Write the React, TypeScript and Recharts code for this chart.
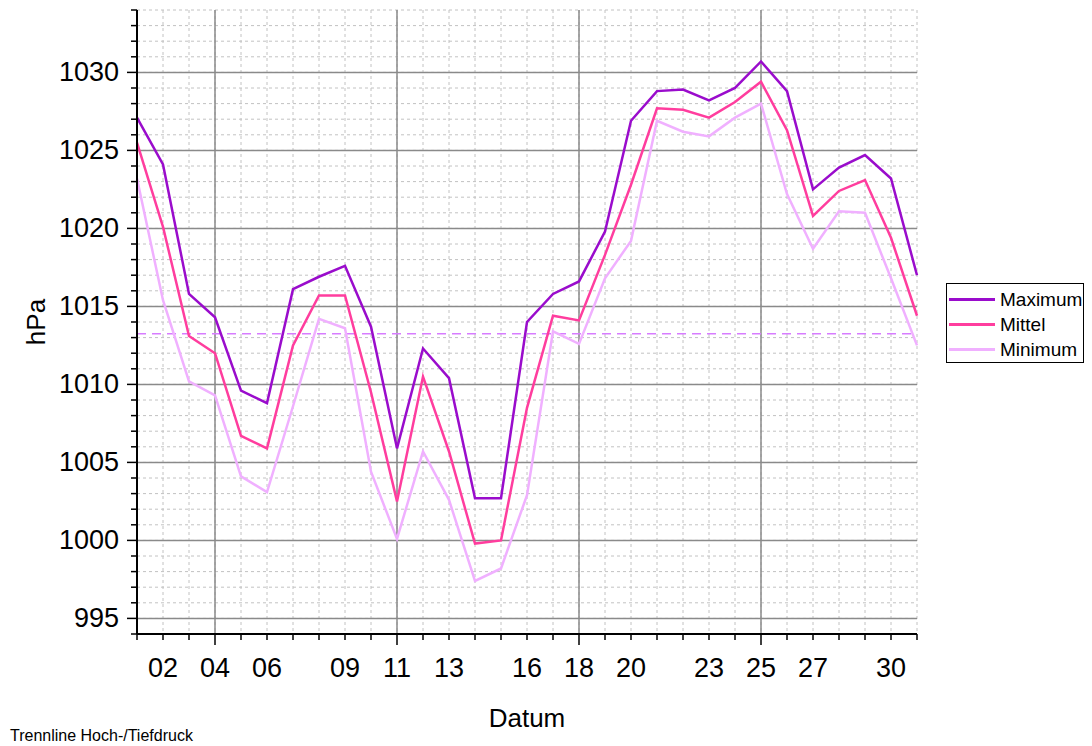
import React from 'react';
import { LineChart, Line, XAxis, YAxis, CartesianGrid, ReferenceLine } from 'recharts';

// Luftdruck pro Tag (hPa)
const days = [1, 2, 3, 4, 5, 6, 7, 8, 9, 10, 11, 12, 13, 14, 15, 16, 17, 18, 19, 20, 21, 22, 23, 24, 25, 26, 27, 28, 29, 30, 31];
const maximum = [1027.1, 1024.1, 1015.8, 1014.3, 1009.6, 1008.8, 1016.1, 1016.9, 1017.6, 1013.7, 1005.9, 1012.3, 1010.4, 1002.7, 1002.7, 1014.0, 1015.8, 1016.6, 1019.8, 1026.9, 1028.8, 1028.9, 1028.2, 1029.0, 1030.7, 1028.8, 1022.5, 1023.9, 1024.7, 1023.2, 1017.0];
const mittel = [1025.5, 1020.1, 1013.1, 1012.0, 1006.7, 1005.9, 1012.5, 1015.7, 1015.7, 1009.5, 1002.5, 1010.5, 1005.7, 999.8, 1000.0, 1008.5, 1014.4, 1014.1, 1018.3, 1022.8, 1027.7, 1027.6, 1027.1, 1028.1, 1029.4, 1026.3, 1020.8, 1022.4, 1023.1, 1019.4, 1014.4];
const minimum = [1023.2, 1015.4, 1010.2, 1009.3, 1004.1, 1003.1, 1008.6, 1014.2, 1013.6, 1004.4, 1000.1, 1005.7, 1002.6, 997.4, 998.2, 1002.9, 1013.4, 1012.6, 1016.8, 1019.2, 1026.9, 1026.2, 1025.9, 1027.1, 1028.0, 1022.2, 1018.7, 1021.1, 1021.0, 1016.8, 1012.5];

const dayLabels = [2, 4, 6, 9, 11, 13, 16, 18, 20, 23, 25, 27, 30];
const weekDays = [4, 11, 18, 25];
const pressureTicks = [994, 995, 996, 997, 998, 999, 1000, 1001, 1002, 1003, 1004, 1005, 1006, 1007, 1008, 1009, 1010, 1011, 1012, 1013, 1014, 1015, 1016, 1017, 1018, 1019, 1020, 1021, 1022, 1023, 1024, 1025, 1026, 1027, 1028, 1029, 1030, 1031, 1032, 1033, 1034];
const pressureMajor = [995, 1000, 1005, 1010, 1015, 1020, 1025, 1030];
const trennlinie = 1013.25;

const series = [
  { key: 'max', name: 'Maximum', color: '#9a0ccc' },
  { key: 'mittel', name: 'Mittel', color: '#ff3d9e' },
  { key: 'min', name: 'Minimum', color: '#f0b0ff' },
];

const data = days.map((d, i) => ({ day: d, max: maximum[i], mittel: mittel[i], min: minimum[i] }));

const font = '"Liberation Sans", Arial, sans-serif';

const XTick = (props: any) => {
  const { x, y, payload } = props;
  const d = payload.value;
  const major = weekDays.includes(d);
  return (
    <g>
      <line x1={x} x2={x} y1={y} y2={y + (major ? 11 : 6)} stroke="#000" strokeWidth={1.5} />
      {dayLabels.includes(d) && (
        <text x={x} y={y + 43} textAnchor="middle" fontSize={27} fontFamily={font} fill="#000">
          {String(d).padStart(2, '0')}
        </text>
      )}
    </g>
  );
};

const YTick = (props: any) => {
  const { x, y, payload } = props;
  const v = payload.value;
  const major = v % 5 === 0;
  return (
    <g>
      <line x1={x} x2={x - (major ? 10 : 6)} y1={y} y2={y} stroke="#000" strokeWidth={1.5} />
      {major && v >= 995 && (
        <text x={x - 18} y={y + 9} textAnchor="end" fontSize={27} fontFamily={font} fill="#000">
          {v}
        </text>
      )}
    </g>
  );
};

const XLabel = (props: any) => {
  const { viewBox } = props;
  return (
    <g>
      <text x={viewBox.x + viewBox.width / 2} y={viewBox.y + 93} textAnchor="middle" fontSize={26} fontFamily={font} fill="#000">
        Datum
      </text>
      <text x={10} y={741} fontSize={16} fontFamily={font} fill="#000">
        Trennline Hoch-/Tiefdruck
      </text>
    </g>
  );
};

const YLabel = (props: any) => {
  const { viewBox } = props;
  const cy = viewBox.y + viewBox.height / 2;
  return (
    <text x={45} y={cy} transform={`rotate(-90, 45, ${cy})`} textAnchor="middle" fontSize={26} fontFamily={font} fill="#000">
      hPa
    </text>
  );
};

export default function App() {
  return (
    <div style={{ position: 'absolute', left: 0, top: 0, width: 1092, height: 746, background: '#fff' }}>
      <LineChart width={1092} height={746} data={data} margin={{ top: 10, right: 175, left: 0, bottom: 0 }}>
        <CartesianGrid horizontalValues={pressureTicks} verticalValues={days} stroke="#c2c2c2" strokeDasharray="3 3" />
        <CartesianGrid horizontalValues={pressureMajor} verticalValues={weekDays} stroke="#8a8a8a" strokeWidth={1.5} />
        <XAxis
          dataKey="day"
          type="number"
          domain={[1, 31]}
          ticks={days}
          interval={0}
          tickLine={false}
          tickSize={0}
          tickMargin={0}
          height={112}
          axisLine={{ stroke: '#000', strokeWidth: 2 }}
          tick={<XTick />}
          label={<XLabel />}
        />
        <YAxis
          type="number"
          domain={[994, 1034]}
          ticks={pressureTicks}
          interval={0}
          tickLine={false}
          tickSize={0}
          tickMargin={0}
          width={137}
          axisLine={{ stroke: '#000', strokeWidth: 2 }}
          tick={<YTick />}
          label={<YLabel />}
        />
        <ReferenceLine y={trennlinie} stroke="#d77cff" strokeWidth={1.5} strokeDasharray="9 6" />
        {[...series].reverse().map((s) => (
          <Line
            key={s.key}
            type="linear"
            dataKey={s.key}
            name={s.name}
            stroke={s.color}
            strokeWidth={2.5}
            dot={false}
            isAnimationActive={false}
          />
        ))}
      </LineChart>
      <div
        style={{
          position: 'absolute',
          left: 946,
          top: 283,
          width: 138,
          height: 80,
          border: '1.5px solid #000',
          background: '#fff',
          fontFamily: font,
          fontSize: 19,
          paddingTop: 3,
          boxSizing: 'border-box',
        }}
      >
        {series.map((s) => (
          <div key={s.key} style={{ display: 'flex', alignItems: 'center', height: 25 }}>
            <span style={{ display: 'inline-block', width: 46, height: 3, background: s.color, marginLeft: 2, marginRight: 5 }} />
            <span>{s.name}</span>
          </div>
        ))}
      </div>
    </div>
  );
}
